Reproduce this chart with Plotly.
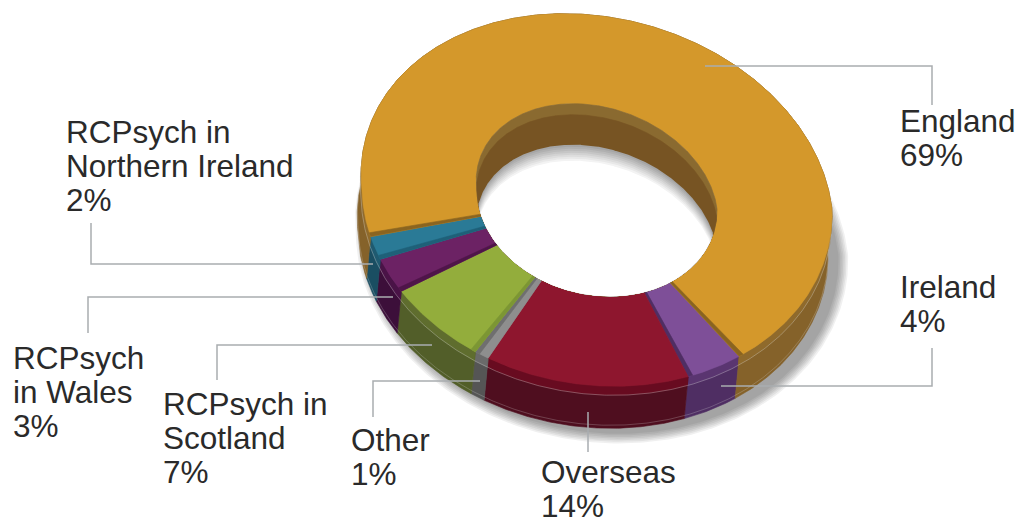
import numpy as np
import plotly.graph_objects as go

# Share of members by region, in drawing order (clockwise)
categories = ["Ireland", "Overseas", "Other", "RCPsych in Scotland", "RCPsych in Wales",
              "RCPsych in Northern Ireland", "England"]
values = [4, 14, 1, 7, 3, 2, 69]
top_colors = ["#7e4f98", "#8e162e", "#8e8e8e", "#93ad3c", "#6c2264", "#2a7a96", "#d4982b"]
band_colors = ["#5a3570", "#680b20", "#6a6a6a", "#5f6d2e", "#4a1347", "#1f5a70", "#8f6a2c"]
wall_colors = ["#4f2e63", "#4f0e1f", "#555555", "#525e29", "#3c0f3a", "#1a4e62", "#85622a"]
edge_colors = ["#4f2e63", "#8e162e", "#6f6f6f", "#7c9634", "#4f1549", "#1f6078", "#8a6420"]
# Which ends of each slice show a darker cut face: (start, end)
edge_sides = [(False, True), (False, False), (False, True), (True, False),
              (True, False), (True, False), (True, True)]

label_lines = [
    ["Ireland"], ["Overseas"], ["Other"], ["RCPsych in", "Scotland"], ["RCPsych", "in Wales"],
    ["RCPsych in", "Northern Ireland"], ["England"],
]
label_x = [900, 541, 351, 163, 13, 66, 900]
label_y = [287, 472, 440, 404, 358, 132, 121]
leaders = [
    ([721, 932, 932], [386, 386, 348]),
    ([588, 588], [412, 452]),
    ([480, 373, 373], [381, 381, 417]),
    ([432, 217, 217], [345, 345, 380]),
    ([393, 88, 88], [297, 297, 333]),
    ([373, 91, 91], [264, 264, 223]),
    ([705, 932, 932], [66, 66, 105]),
]

START_ANGLE = 144.0
OUTER = dict(cx=597, cy=200, rx=235, ry=186, k=10, s_top=20, s_bottom=5)
INNER = dict(cx=597, cy=200, rx=120, ry=96, k=8, s_top=14, s_bottom=3)
DEPTH = 42
WALL_DX = -4
HOLE_DEPTH = 41


def rim(deg, e, dx=0, dy=0):
    a = np.radians(deg)
    c = np.cos(a)
    lean = np.where(c > 0, e["s_top"], e["s_bottom"])
    x = e["cx"] + e["rx"] * np.sin(a) - lean * c + dx
    y = e["cy"] - e["ry"] * c + e["k"] * np.sin(a) + dy
    return x, y


def arc(a0, a1, per_degree=2):
    return np.linspace(a0, a1, max(3, int(abs(a1 - a0) * per_degree)))


def patch(fig, x, y, color, seam=0.6):
    fig.add_trace(go.Scatter(x=np.append(x, x[0]), y=np.append(y, y[0]), mode="lines",
                             fill="toself", fillcolor=color,
                             line=dict(color=color, width=seam), hoverinfo="skip"))


def wedge(fig, a0, a1, color):
    t = arc(a0, a1)
    ox, oy = rim(t, OUTER)
    ix, iy = rim(t[::-1], INNER)
    patch(fig, np.r_[ox, ix], np.r_[oy, iy], color)


def wall(fig, a0, a1, d0, d1, color):
    t = arc(a0, a1)
    ax, ay = rim(t, OUTER, WALL_DX * d0 / DEPTH, d0)
    bx, by = rim(t[::-1], OUTER, WALL_DX * d1 / DEPTH, d1)
    patch(fig, np.r_[ax, bx], np.r_[ay, by], color)


def hole_opening(shift):
    """The part of the hole not hidden by its own back wall, for a wall of the given height."""
    t = arc(0, 360, 4)[:-1]
    x, y = rim(t, INNER)
    left, right = int(np.argmin(x)), int(np.argmax(x))
    roll = np.roll(np.arange(len(t)), -left)
    r_pos = int(np.where(roll == right)[0][0])
    arc_a, arc_b = roll[: r_pos + 1], np.r_[roll[r_pos:], roll[0]]
    upper, lower = (arc_a, arc_b) if y[arc_a].mean() < y[arc_b].mean() else (arc_b, arc_a)
    xs = np.linspace(x[left], x[right], 400)
    yu = np.interp(xs, x[upper][np.argsort(x[upper])], y[upper][np.argsort(x[upper])]) + shift
    yl = np.interp(xs, x[lower][np.argsort(x[lower])], y[lower][np.argsort(x[lower])])
    keep = yu < yl
    return np.r_[xs[keep], xs[keep][::-1]], np.r_[yu[keep], yl[keep][::-1]]


fig = go.Figure()

# Soft shadow cast below and to the right of the ring
for grow in range(14, 0, -2):
    t = arc(0, 360, 1)
    e = dict(OUTER, rx=OUTER["rx"] + grow * 0.8, ry=OUTER["ry"] + grow * 0.8)
    x, y = rim(t, e, 5, DEPTH + 4)
    patch(fig, x, y, "rgba(0,0,0,0.06)", seam=0)

spans = 360 * np.array(values) / sum(values)
ends = START_ANGLE + np.cumsum(spans)
starts = ends - spans

# Outer walls, with the lighter bevel along the top and hairlines along the side
for a0, a1, w, b in zip(starts, ends, wall_colors, band_colors):
    wall(fig, a0, a1, 0, DEPTH, w)
    wall(fig, a0, a1, 0, 9, b)
t = arc(90, 300)
for d, alpha in ((9, 0.35), (DEPTH - 3, 0.25)):
    x, y = rim(t, OUTER, WALL_DX * d / DEPTH, d)
    fig.add_trace(go.Scatter(x=x, y=y, mode="lines", hoverinfo="skip",
                             line=dict(color=f"rgba(215,215,215,{alpha})", width=1)))

# Top faces and their darker cut edges
STRIP = 1.2
for a0, a1, c, e, (s0, s1) in zip(starts, ends, top_colors, edge_colors, edge_sides):
    wedge(fig, a0, a1, c)
    if s0:
        wedge(fig, a0, a0 + STRIP, e)
    if s1:
        wedge(fig, a1 - STRIP, a1, e)

# Hole: back wall with its lighter top band, then the opening with a shadow fading from the wall
t = arc(0, 360, 2)
hx, hy = rim(t, INNER)
patch(fig, hx, hy, "#8a6a30")
bx, by = hole_opening(11)
patch(fig, bx, by, "#775423")
for i in range(9):
    level = int(165 + 90 * i / 8)
    x, y = hole_opening(HOLE_DEPTH + i * 2)
    patch(fig, x, y, f"rgb({level},{level},{level})", seam=0)

# Leader lines, then labels on top
for lx, ly in leaders:
    fig.add_trace(go.Scatter(x=lx, y=ly, mode="lines", hoverinfo="skip",
                             line=dict(color="#a9adb0", width=1.5)))

LINE_GAP = 34.2
for lines, v, x0, y0 in zip(label_lines, values, label_x, label_y):
    for i, text in enumerate(lines + [f"{v}%"]):
        fig.add_annotation(x=x0, y=y0 + i * LINE_GAP, text=text, showarrow=False,
                           xanchor="left", yanchor="middle", xshift=-2,
                           font=dict(family="Liberation Sans", size=31.5, color="#2a2a2a"))

fig.update_layout(
    width=1022, height=518, margin=dict(l=0, r=0, t=0, b=0), showlegend=False,
    paper_bgcolor="white", plot_bgcolor="white",
    xaxis=dict(range=[0, 1022], visible=False, fixedrange=True),
    yaxis=dict(range=[518, 0], visible=False, fixedrange=True),
)
fig.write_html("out.html", config=dict(displayModeBar=False))
